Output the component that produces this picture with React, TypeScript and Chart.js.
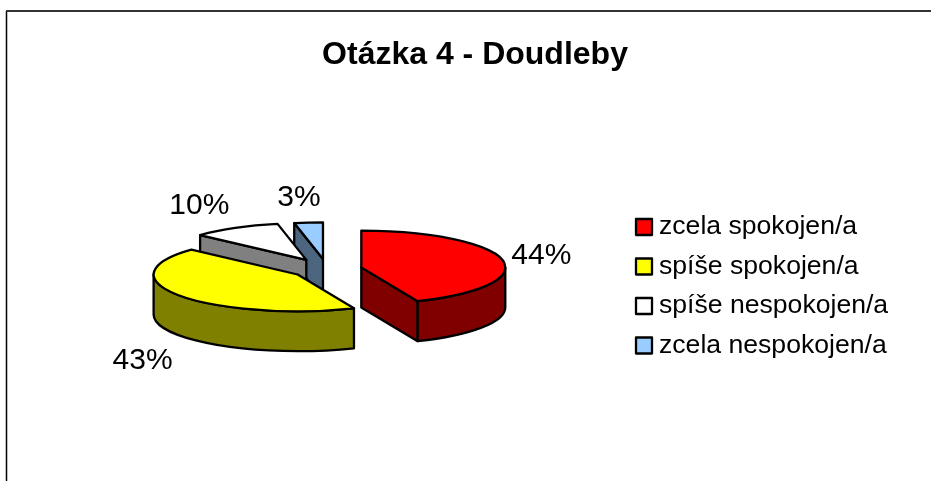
import React, { useEffect, useRef } from "react";
import { Chart, registerables } from "chart.js";

Chart.register(...registerables);

const chartTitle = "Otázka 4 - Doudleby";
const categories = ["zcela spokojen/a", "spíše spokojen/a", "spíše nespokojen/a", "zcela nespokojen/a"];
const shares = [43.6, 43.2, 10, 3.2];
const fills = ["#ff0000", "#ffff00", "#ffffff", "#99ccff"];
const walls = ["#800000", "#808000", "#808080", "#4d6680"];
const explode = [140, 144, 168, 160];
const labelShift = [[180, -12], [-155, 86], [-107, -54], [-24, -61]];

const FONT = "'Liberation Sans', Arial, sans-serif";
const SQUASH = 0.255;
const DEPTH = 40;
const TITLE_SHIFT = 148;

const norm = (a: number) => {
  const t = Math.PI * 2;
  return ((a % t) + t) % t;
};

const pie3d = {
  id: "pie3d",
  beforeDraw(chart: any) {
    const { ctx, width, height } = chart;
    ctx.save();
    ctx.fillStyle = "#ffffff";
    ctx.fillRect(0, 0, width, height);
    ctx.strokeStyle = "#000000";
    ctx.lineWidth = 1.5;
    ctx.beginPath();
    ctx.moveTo(6.5, height + 2);
    ctx.lineTo(6.5, 11);
    ctx.stroke();
    ctx.strokeStyle = "#333333";
    ctx.lineWidth = 2;
    ctx.beginPath();
    ctx.moveTo(6, 11);
    ctx.lineTo(width + 2, 11);
    ctx.stroke();
    ctx.restore();
  },
  afterLayout(chart: any) {
    chart.titleBlock.left += TITLE_SHIFT;
    chart.titleBlock.right += TITLE_SHIFT;
  },
  beforeDatasetsDraw(chart: any) {
    const { ctx } = chart;
    const arcs = chart.getDatasetMeta(0).data;
    ctx.save();
    ctx.lineWidth = 2.3;
    ctx.lineJoin = "round";
    ctx.strokeStyle = "#000000";
    const centres = arcs.map((arc: any) => {
      const mid = (arc.startAngle + arc.endAngle) / 2;
      const d = arc.options.offset / 4;
      return [arc.x + Math.cos(mid) * d, arc.y + Math.sin(mid) * d * SQUASH];
    });
    const paint = (fill: string, build: () => void) => {
      ctx.beginPath();
      build();
      ctx.closePath();
      ctx.fillStyle = fill;
      ctx.fill();
      ctx.stroke();
    };
    for (let i = arcs.length - 1; i >= 0; i--) {
      const arc = arcs[i];
      const [cx, cy] = centres[i];
      const R = arc.outerRadius;
      const ry = R * SQUASH;
      const a0 = arc.startAngle;
      const a1 = arc.endAngle;
      const edge = (a: number) => {
        const ex = cx + Math.cos(a) * R;
        const ey = cy + Math.sin(a) * ry;
        paint(walls[i], () => {
          ctx.moveTo(cx, cy);
          ctx.lineTo(ex, ey);
          ctx.lineTo(ex, ey + DEPTH);
          ctx.lineTo(cx, cy + DEPTH);
        });
      };
      if (Math.cos(a0) < -1e-6) edge(a0);
      if (Math.cos(a1) > 1e-6) edge(a1);
      // outer wall: only the part of the rim on the viewer's side
      const base = a0 - norm(a0);
      [0, Math.PI * 2].forEach((turn) => {
        const from = Math.max(a0, base + turn);
        const to = Math.min(a1, base + turn + Math.PI);
        if (to > from) {
          paint(walls[i], () => {
            ctx.ellipse(cx, cy, R, ry, 0, from, to);
            ctx.ellipse(cx, cy + DEPTH, R, ry, 0, to, from, true);
          });
        }
      });
      paint(fills[i], () => {
        ctx.moveTo(cx, cy);
        ctx.ellipse(cx, cy, R, ry, 0, a0, a1);
      });
    }
    // value labels
    ctx.fillStyle = "#000000";
    ctx.font = `30px ${FONT}`;
    ctx.textAlign = "center";
    ctx.textBaseline = "middle";
    shares.forEach((v, i) => {
      ctx.fillText(`${Math.round(v)}%`, centres[i][0] + labelShift[i][0], centres[i][1] + labelShift[i][1]);
    });
    // legend
    ctx.font = `26.6px ${FONT}`;
    ctx.textAlign = "left";
    categories.forEach((c, i) => {
      const y = 227 + i * 39.5;
      ctx.fillStyle = fills[i];
      ctx.fillRect(636, y - 8, 16, 16);
      ctx.lineWidth = 2.3;
      ctx.strokeRect(636, y - 8, 16, 16);
      ctx.fillStyle = "#000000";
      ctx.fillText(c, 659, y);
    });
    ctx.restore();
    return false;
  },
};

export default function App() {
  const ref = useRef<HTMLCanvasElement>(null);
  useEffect(() => {
    document.body.style.margin = "0";
    const chart = new Chart(ref.current as HTMLCanvasElement, {
      type: "pie",
      data: {
        labels: categories,
        datasets: [
          {
            data: shares,
            backgroundColor: fills,
            borderColor: "#000000",
            borderWidth: 2,
            offset: explode,
          },
        ],
      },
      options: {
        animation: false,
        responsive: false,
        radius: 144,
        layout: { padding: { left: 20, right: 297, bottom: 37, top: 0 } },
        plugins: {
          legend: { display: false },
          tooltip: { enabled: false },
          title: {
            display: true,
            text: chartTitle,
            color: "#000000",
            font: { family: FONT, size: 32, weight: "bold" },
            padding: { top: 36, bottom: 20 },
          },
        },
      },
      plugins: [pie3d],
    } as any);
    return () => chart.destroy();
  }, []);
  return <canvas ref={ref} width={931} height={481} style={{ display: "block" }} />;
}
